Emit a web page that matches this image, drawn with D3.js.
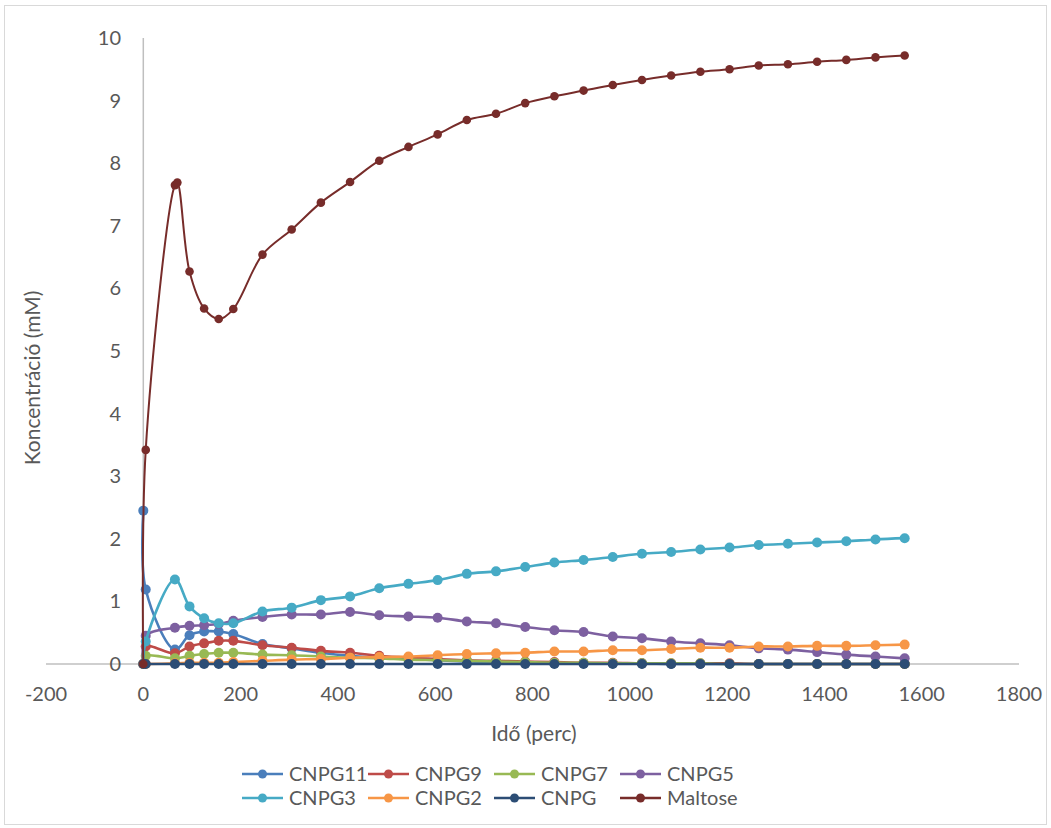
<!DOCTYPE html>
<html>
<head>
<meta charset="utf-8">
<script src="https://cdn.jsdelivr.net/npm/d3@7"></script>
<style>
  body { margin: 0; background: #fff; }
  svg text { font-family: Lato, "Open Sans", sans-serif; fill: #595959; }
</style>
</head>
<body>
<div id="chart"></div>
<script>
// sampling times (perc)
var times = [0, 5, 65, 95, 125, 155, 185, 245, 305, 365, 425, 485, 545, 605, 665, 725,
  785, 845, 905, 965, 1025, 1085, 1145, 1205, 1265, 1325, 1385, 1445, 1505, 1565]
var maltoseTimes = [0, 5, 65, 70, 95, 125, 155, 185, 245, 305, 365, 425, 485, 545, 605, 665, 725,
  785, 845, 905, 965, 1025, 1085, 1145, 1205, 1265, 1325, 1385, 1445, 1505, 1565]

var cnpg11 = [2.45, 1.19, 0.23, 0.46, 0.52, 0.52, 0.48, 0.32, 0.25, 0.18, 0.13, 0.10, 0.08, 0.06, 0.04,
  0.03, 0.02, 0.01, 0.01, 0.01, 0.01, 0, 0, 0, 0, 0, 0, 0, 0, 0]
var cnpg9 = [0, 0.28, 0.17, 0.28, 0.33, 0.37, 0.37, 0.30, 0.26, 0.21, 0.18, 0.13, 0.10, 0.08, 0.06,
  0.05, 0.04, 0.03, 0.02, 0.02, 0.01, 0.01, 0.01, 0.01, 0, 0, 0, 0, 0, 0]
var cnpg7 = [0, 0.13, 0.09, 0.13, 0.16, 0.18, 0.18, 0.15, 0.14, 0.12, 0.10, 0.09, 0.07, 0.06, 0.05,
  0.04, 0.03, 0.02, 0.02, 0.01, 0.01, 0.01, 0.01, 0, 0, 0, 0, 0, 0, 0]
var cnpg5 = [0, 0.45, 0.58, 0.61, 0.62, 0.64, 0.69, 0.75, 0.79, 0.79, 0.83, 0.78, 0.76, 0.74, 0.68,
  0.65, 0.59, 0.54, 0.51, 0.44, 0.41, 0.36, 0.33, 0.30, 0.25, 0.23, 0.19, 0.15, 0.12, 0.09]
var cnpg3 = [0, 0.36, 1.35, 0.92, 0.73, 0.65, 0.65, 0.84, 0.90, 1.02, 1.08, 1.21, 1.28, 1.34, 1.44,
  1.48, 1.55, 1.62, 1.66, 1.71, 1.76, 1.79, 1.83, 1.86, 1.90, 1.92, 1.94, 1.96, 1.99, 2.01]
var cnpg2 = [0, 0, 0.01, 0.02, 0.02, 0.02, 0.03, 0.05, 0.07, 0.08, 0.10, 0.11, 0.12, 0.14, 0.16,
  0.17, 0.18, 0.20, 0.20, 0.22, 0.22, 0.24, 0.26, 0.26, 0.28, 0.28, 0.29, 0.29, 0.30, 0.31]
var cnpg = [0, 0, 0, 0, 0, 0, 0, 0, 0, 0, 0, 0, 0, 0, 0,
  0, 0, 0, 0, 0, 0, 0, 0, 0, 0, 0, 0, 0, 0, 0]
var maltose = [0, 3.42, 7.65, 7.69, 6.27, 5.68, 5.51, 5.67, 6.54, 6.94, 7.37, 7.70, 8.04, 8.26, 8.46, 8.69,
  8.79, 8.96, 9.07, 9.16, 9.25, 9.33, 9.40, 9.46, 9.50, 9.56, 9.58, 9.62, 9.65, 9.69, 9.72]

var seriesNames = ['CNPG11', 'CNPG9', 'CNPG7', 'CNPG5', 'CNPG3', 'CNPG2', 'CNPG', 'Maltose']
var seriesColors = ['#4a7ebb', '#be4b48', '#98b954', '#7d60a0', '#46aac5', '#f79646', '#2c4d75', '#772c2a']
var xTicks = [-200, 0, 200, 400, 600, 800, 1000, 1200, 1400, 1600, 1800]
var yTicks = [0, 1, 2, 3, 4, 5, 6, 7, 8, 9, 10]

var series = [
  {name: seriesNames[0], t: times, v: cnpg11},
  {name: seriesNames[1], t: times, v: cnpg9},
  {name: seriesNames[2], t: times, v: cnpg7},
  {name: seriesNames[3], t: times, v: cnpg5},
  {name: seriesNames[4], t: times, v: cnpg3},
  {name: seriesNames[5], t: times, v: cnpg2},
  {name: seriesNames[6], t: times, v: cnpg},
  {name: seriesNames[7], t: maltoseTimes, v: maltose}
]
series.forEach(function(s, i){
  s.color = seriesColors[i]
  s.pts = s.t.map(function(t, j){ return {t: t, v: s.v[j]} })
})

var W = 1051, H = 828
var svg = d3.select('#chart').append('svg').attr('width', W).attr('height', H)

// chart border
svg.append('rect').attr('x', 4.5).attr('y', 5.5).attr('width', 1042).attr('height', 819)
  .attr('fill', '#fff').attr('stroke', '#d9d9d9')

var x = d3.scaleLinear().domain([-200, 1800]).range([46, 1019])
var y = d3.scaleLinear().domain([0, 10]).range([664, 38])

// axis lines
svg.append('line').attr('x1', x(-200)).attr('x2', x(1800)).attr('y1', y(0)).attr('y2', y(0))
  .attr('stroke', '#bfbfbf').attr('stroke-width', 1.5)
svg.append('line').attr('x1', x(0)).attr('x2', x(0)).attr('y1', y(0)).attr('y2', y(10))
  .attr('stroke', '#bfbfbf').attr('stroke-width', 1.5)

svg.selectAll('text.xt').data(xTicks).enter().append('text').attr('class', 'xt')
  .attr('x', function(d){ return x(d) }).attr('y', 701)
  .attr('text-anchor', 'middle').style('font-size', '20px').text(function(d){ return d })

svg.selectAll('text.yt').data(yTicks).enter().append('text').attr('class', 'yt')
  .attr('x', 121).attr('y', function(d){ return y(d) + 7 })
  .attr('text-anchor', 'end').style('font-size', '20px').text(function(d){ return d })

svg.append('text').attr('transform', 'translate(40,378) rotate(-90)')
  .attr('text-anchor', 'middle').style('font-size', '21px').text('Koncentráció (mM)')
svg.append('text').attr('x', 534).attr('y', 741)
  .attr('text-anchor', 'middle').style('font-size', '21px').text('Idő (perc)')

var line = d3.line()
  .x(function(d){ return x(d.t) })
  .y(function(d){ return y(d.v) })
  .curve(d3.curveCatmullRom.alpha(0.5))

series.forEach(function(s, i){
  var g = svg.append('g')
  var mal = s.name == 'Maltose'
  g.append('path').attr('d', line(s.pts)).attr('fill', 'none')
    .attr('stroke', s.color).attr('stroke-width', mal ? 2 : 2.6)
  g.selectAll('circle').data(s.pts).enter().append('circle')
    .attr('cx', function(d){ return x(d.t) })
    .attr('cy', function(d){ return y(d.v) })
    .attr('r', mal ? 4.3 : 5)
    .attr('fill', s.color)
})

// legend
var legend = svg.selectAll('g.leg').data(series).enter().append('g').attr('class', 'leg')
  .attr('transform', function(d, i){ return 'translate(' + (242 + (i % 4) * 126) + ',' + (774 + Math.floor(i / 4) * 24) + ')' })
legend.append('line').attr('x1', 0).attr('x2', 41).attr('y1', 0).attr('y2', 0)
  .attr('stroke', function(d){ return d.color }).attr('stroke-width', 2.6)
legend.append('circle').attr('cx', 20.5).attr('cy', 0).attr('r', 4.5)
  .attr('fill', function(d){ return d.color })
legend.append('text').attr('x', 47).attr('y', 7).style('font-size', '20px')
  .text(function(d){ return d.name })
</script>
</body>
</html>
